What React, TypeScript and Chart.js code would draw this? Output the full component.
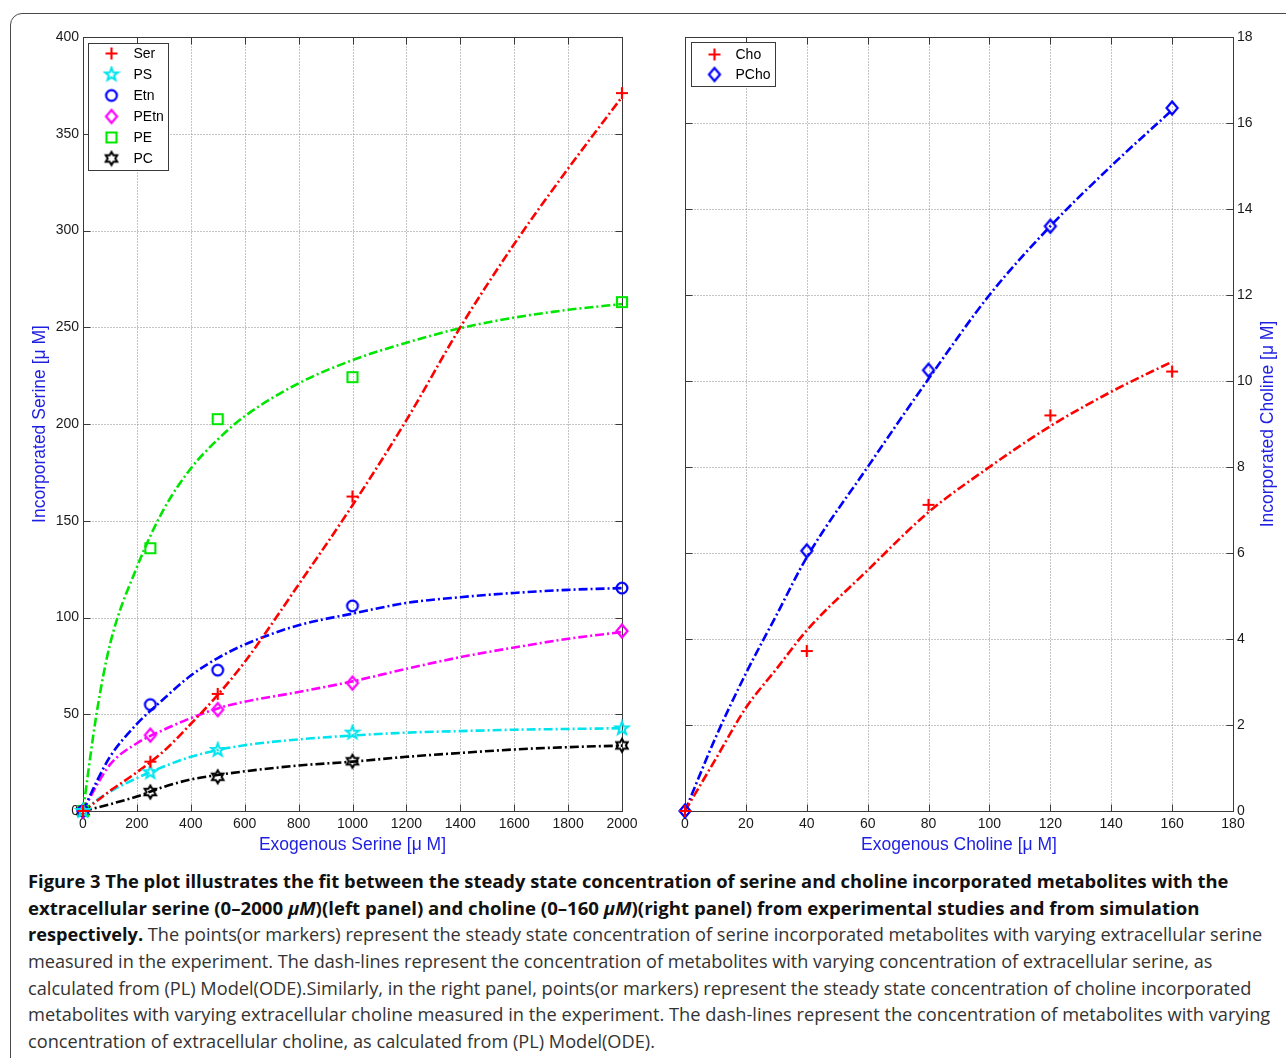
import React, { useEffect, useLayoutEffect, useRef } from 'react';
import { Chart, registerables } from 'chart.js';

Chart.register(...registerables);

// ---------- Left panel data (serine) ----------
const serineLevels = [0, 250, 500, 1000, 2000];
const serMeasured = [0, 25.5, 60.5, 162.5, 371];
const psMeasured = [0, 20, 31.5, 40.5, 42.7];
const etnMeasured = [0, 55, 72.8, 106, 115.2];
const petnMeasured = [0, 39.2, 52.4, 66.1, 93];
const peMeasured = [0, 135.8, 202.5, 224.2, 263];
const pcMeasured = [0, 9.8, 17.7, 25.7, 33.9];

const serineCurveX = [0, 50, 100, 200, 300, 400, 500, 600, 800, 1000, 1200, 1400, 1600, 1800, 2000];
const serCurve = [0, 5, 10.4, 20, 31, 45, 60, 77, 117, 158, 202, 250, 293, 332, 369];
const psCurve = [0, 5.5, 10, 17, 23, 28, 31.5, 34, 37, 39, 40.5, 41.3, 42, 42.4, 42.8];
const etnCurve = [0, 15, 28, 45, 58, 70, 79, 86, 96, 102, 107.5, 110.5, 112.7, 114.3, 115.2];
const petnCurve = [0, 13, 24, 35, 42, 48, 53, 56.5, 61.5, 67, 73.5, 79.5, 84.5, 89, 92.5];
const peCurve = [0, 50, 86, 126, 156, 177, 192, 204, 221, 233, 242, 249.5, 255, 259, 262];
const pcCurve = [0, 1.7, 3.5, 7.5, 12.5, 16.3, 18.6, 20.5, 23.5, 25.5, 28, 30, 31.8, 33, 33.8];

// ---------- Right panel data (choline) ----------
const cholineLevels = [0, 40, 80, 120, 160];
const choMeasured = [0, 3.72, 7.12, 9.2, 10.22];
const pchoMeasured = [0, 6.05, 10.25, 13.6, 16.35];

const cholineCurveX = [0, 10, 20, 30, 40, 60, 80, 100, 120, 140, 160];
const choCurve = [0, 1.2, 2.4, 3.3, 4.2, 5.6, 6.95, 8.0, 8.95, 9.75, 10.45];
const pchoCurve = [0, 1.7, 3.2, 4.55, 5.9, 8.0, 10.05, 12.0, 13.6, 15.0, 16.3];

// ---------- Labels ----------
const serineLabels = ['Ser', 'PS', 'Etn', 'PEtn', 'PE', 'PC'];
const cholineLabels = ['Cho', 'PCho'];
const serineXTitle = 'Exogenous Serine [\u03bc M]';
const serineYTitle = 'Incorporated Serine [\u03bc M]';
const cholineXTitle = 'Exogenous Choline [\u03bc M]';
const cholineYTitle = 'Incorporated Choline [\u03bc M]';

const RED = '#ff0000';
const CYAN = '#00e4ee';
const BLUE = '#0000ff';
const MAGENTA = '#ff00ff';
const GREEN = '#00e600';
const BLACK = '#000000';
const TITLE_BLUE = '#1f1fe0';

type MarkerKind = 'plus' | 'star5' | 'circle' | 'diamond' | 'square' | 'star6';

function makeMarker(kind: MarkerKind, color: string): HTMLCanvasElement {
  const s = 18;
  const c = document.createElement('canvas');
  c.width = s;
  c.height = s;
  const ctx = c.getContext('2d')!;
  const m = s / 2;
  ctx.strokeStyle = color;
  ctx.lineWidth = 2.2;
  ctx.lineJoin = 'miter';
  ctx.beginPath();
  if (kind === 'plus') {
    ctx.moveTo(m - 6, m);
    ctx.lineTo(m + 6, m);
    ctx.moveTo(m, m - 6);
    ctx.lineTo(m, m + 6);
  } else if (kind === 'circle') {
    ctx.arc(m, m, 5.4, 0, Math.PI * 2);
  } else if (kind === 'diamond') {
    ctx.moveTo(m, m - 6.5);
    ctx.lineTo(m + 5.5, m);
    ctx.lineTo(m, m + 6.5);
    ctx.lineTo(m - 5.5, m);
    ctx.closePath();
  } else if (kind === 'square') {
    ctx.rect(m - 5, m - 5, 10, 10);
  } else if (kind === 'star5') {
    for (let i = 0; i < 10; i++) {
      const r = i % 2 === 0 ? 6.8 : 2.8;
      const a = -Math.PI / 2 + (i * Math.PI) / 5;
      const x = m + r * Math.cos(a);
      const y = m + r * Math.sin(a);
      if (i === 0) ctx.moveTo(x, y);
      else ctx.lineTo(x, y);
    }
    ctx.closePath();
    ctx.lineWidth = 2;
  } else if (kind === 'star6') {
    for (let i = 0; i < 12; i++) {
      const r = i % 2 === 0 ? 6.6 : 3.8;
      const a = -Math.PI / 2 + (i * Math.PI) / 6;
      const x = m + r * Math.cos(a);
      const y = m + r * Math.sin(a);
      if (i === 0) ctx.moveTo(x, y);
      else ctx.lineTo(x, y);
    }
    ctx.closePath();
    ctx.lineWidth = 2;
  }
  ctx.stroke();
  return c;
}

interface SeriesDef {
  label: string;
  color: string;
  marker: MarkerKind;
  measured: number[];
  curve: number[];
}

function buildDatasets(xMeas: number[], xCurve: number[], series: SeriesDef[], imgs: HTMLCanvasElement[]) {
  const ds: any[] = [];
  series.forEach((s, k) => {
    ds.push({
      label: s.label + ' model',
      data: xCurve.map((x, i) => ({ x, y: s.curve[i] })),
      showLine: true,
      borderColor: s.color,
      backgroundColor: s.color,
      borderWidth: 2.6,
      borderDash: [9, 3, 2, 3],
      pointRadius: 0,
      pointHoverRadius: 0,
      cubicInterpolationMode: 'monotone',
      fill: false,
      order: 2,
    });
    ds.push({
      label: s.label,
      data: xMeas.map((x, i) => ({ x, y: s.measured[i] })),
      showLine: false,
      pointStyle: imgs[k],
      pointRadius: 6,
      pointHoverRadius: 6,
      clip: false,
      order: 1,
    });
  });
  return ds;
}

const matlabPlugin = {
  id: 'matlab',
  beforeDatasetsDraw(chart: any) {
    const { ctx } = chart;
    const { left, right, top, bottom } = chart.chartArea;
    const xs = chart.scales.x;
    const ys = chart.scales.y;
    const L = Math.round(left) + 0.5;
    const R = Math.round(right) + 0.5;
    const T = Math.round(top) + 0.5;
    const B = Math.round(bottom) + 0.5;
    ctx.save();
    ctx.strokeStyle = '#8a8a8a';
    ctx.lineWidth = 1;
    ctx.setLineDash([1, 2]);
    xs.ticks.forEach((t: any) => {
      const px = Math.round(xs.getPixelForValue(t.value)) + 0.5;
      if (px <= L + 1 || px >= R - 1) return;
      ctx.beginPath();
      ctx.moveTo(px, T);
      ctx.lineTo(px, B);
      ctx.stroke();
    });
    ys.ticks.forEach((t: any) => {
      const py = Math.round(ys.getPixelForValue(t.value)) + 0.5;
      if (py <= T + 1 || py >= B - 1) return;
      ctx.beginPath();
      ctx.moveTo(L, py);
      ctx.lineTo(R, py);
      ctx.stroke();
    });
    ctx.setLineDash([]);
    ctx.strokeStyle = '#3a3a3a';
    ctx.lineWidth = 1;
    ctx.strokeRect(L, T, R - L, B - T);
    const tl = 7;
    ctx.beginPath();
    xs.ticks.forEach((t: any) => {
      const px = Math.round(xs.getPixelForValue(t.value)) + 0.5;
      ctx.moveTo(px, B);
      ctx.lineTo(px, B - tl);
      ctx.moveTo(px, T);
      ctx.lineTo(px, T + tl);
    });
    ys.ticks.forEach((t: any) => {
      const py = Math.round(ys.getPixelForValue(t.value)) + 0.5;
      ctx.moveTo(L, py);
      ctx.lineTo(L + tl, py);
      ctx.moveTo(R, py);
      ctx.lineTo(R - tl, py);
    });
    ctx.stroke();
    ctx.restore();
  },
  afterDatasetsDraw(chart: any, _args: any, opts: any) {
    const { ctx } = chart;
    const { left, right, top, bottom } = chart.chartArea;
    ctx.save();
    // legend
    const lg = opts.legend;
    const bx = Math.round(left) + lg.dx + 0.5;
    const by = Math.round(top) + lg.dy + 0.5;
    ctx.fillStyle = '#ffffff';
    ctx.fillRect(bx, by, lg.w, lg.h);
    ctx.strokeStyle = '#3a3a3a';
    ctx.lineWidth = 1;
    ctx.strokeRect(bx, by, lg.w, lg.h);
    ctx.font = '14px "Liberation Sans", Arial, sans-serif';
    ctx.fillStyle = '#000';
    ctx.textAlign = 'left';
    ctx.textBaseline = 'middle';
    lg.items.forEach((it: any, i: number) => {
      const cy = by + lg.first + i * lg.step;
      const img = it.img as HTMLCanvasElement;
      ctx.drawImage(img, bx + lg.mx - img.width / 2, cy - img.height / 2);
      ctx.fillText(it.label, bx + lg.tx, cy + 0.5);
    });
    ctx.restore();

    // axis titles
    ctx.save();
    ctx.fillStyle = TITLE_BLUE;
    ctx.font = '17.5px "Liberation Sans", Arial, sans-serif';
    ctx.textAlign = 'center';
    ctx.textBaseline = 'middle';
    ctx.fillText(opts.xTitle, (left + right) / 2, bottom + 34);
    const ty = (top + bottom) / 2;
    const tx = opts.ySide === 'left' ? left - 43 : right + 35;
    ctx.translate(tx, ty);
    ctx.rotate(-Math.PI / 2);
    ctx.fillText(opts.yTitle, 0, 0);
    ctx.restore();
  },
};

const tickFont = { family: '"Liberation Sans", Arial, sans-serif', size: 14 };
const plainTick = (v: any) => String(v);

function SerinePanel() {
  const ref = useRef<HTMLCanvasElement>(null);
  useEffect(() => {
    const series: SeriesDef[] = [
      { label: serineLabels[0], color: RED, marker: 'plus', measured: serMeasured, curve: serCurve },
      { label: serineLabels[1], color: CYAN, marker: 'star5', measured: psMeasured, curve: psCurve },
      { label: serineLabels[2], color: BLUE, marker: 'circle', measured: etnMeasured, curve: etnCurve },
      { label: serineLabels[3], color: MAGENTA, marker: 'diamond', measured: petnMeasured, curve: petnCurve },
      { label: serineLabels[4], color: GREEN, marker: 'square', measured: peMeasured, curve: peCurve },
      { label: serineLabels[5], color: BLACK, marker: 'star6', measured: pcMeasured, curve: pcCurve },
    ];
    const imgs = series.map((s) => makeMarker(s.marker, s.color));
    const chart = new Chart(ref.current!, {
      type: 'scatter',
      data: { datasets: buildDatasets(serineLevels, serineCurveX, series, imgs) },
      plugins: [matlabPlugin],
      options: {
        animation: false,
        responsive: false,
        maintainAspectRatio: false,
        devicePixelRatio: 1,
        events: [],
        layout: { padding: { top: 37, left: 0, right: 28, bottom: 0 } },
        plugins: {
          legend: { display: false },
          tooltip: { enabled: false },
          matlab: {
            xTitle: serineXTitle,
            yTitle: serineYTitle,
            ySide: 'left',
            legend: {
              dx: 5, dy: 6, w: 80, h: 127, first: 10, step: 21, mx: 23, tx: 45,
              items: series.map((s, i) => ({ label: s.label, img: imgs[i] })),
            },
          },
        } as any,
        scales: {
          x: {
            type: 'linear',
            min: 0,
            max: 2000,
            grid: { display: false, drawTicks: false },
            border: { display: false },
            ticks: { stepSize: 200, padding: 5, font: tickFont, color: '#1a1a1a', maxRotation: 0, autoSkip: false, callback: plainTick },
            afterFit: (s: any) => { s.height = 49; },
          },
          y: {
            type: 'linear',
            position: 'left',
            min: 0,
            max: 400,
            grid: { display: false, drawTicks: false },
            border: { display: false },
            ticks: { stepSize: 50, padding: 4, font: tickFont, color: '#1a1a1a', autoSkip: false, callback: plainTick },
            afterFit: (s: any) => { s.width = 83; },
          },
        },
      } as any,
    });
    return () => chart.destroy();
  }, []);
  return (
    <canvas
      ref={ref}
      width={650}
      height={860}
      style={{ position: 'absolute', left: 0, top: 0, width: 650, height: 860, display: 'block' }}
    />
  );
}

function CholinePanel() {
  const ref = useRef<HTMLCanvasElement>(null);
  useEffect(() => {
    const series: SeriesDef[] = [
      { label: cholineLabels[0], color: RED, marker: 'plus', measured: choMeasured, curve: choCurve },
      { label: cholineLabels[1], color: BLUE, marker: 'diamond', measured: pchoMeasured, curve: pchoCurve },
    ];
    const imgs = series.map((s) => makeMarker(s.marker, s.color));
    const chart = new Chart(ref.current!, {
      type: 'scatter',
      data: { datasets: buildDatasets(cholineLevels, cholineCurveX, series, imgs) },
      plugins: [matlabPlugin],
      options: {
        animation: false,
        responsive: false,
        maintainAspectRatio: false,
        devicePixelRatio: 1,
        events: [],
        layout: { padding: { top: 37, left: 45, right: 0, bottom: 0 } },
        plugins: {
          legend: { display: false },
          tooltip: { enabled: false },
          matlab: {
            xTitle: cholineXTitle,
            yTitle: cholineYTitle,
            ySide: 'right',
            legend: {
              dx: 6, dy: 5, w: 84, h: 44, first: 12, step: 20, mx: 23, tx: 44,
              items: series.map((s, i) => ({ label: s.label, img: imgs[i] })),
            },
          },
        } as any,
        scales: {
          x: {
            type: 'linear',
            min: 0,
            max: 180,
            grid: { display: false, drawTicks: false },
            border: { display: false },
            ticks: { stepSize: 20, padding: 5, font: tickFont, color: '#1a1a1a', maxRotation: 0, autoSkip: false, callback: plainTick },
            afterFit: (s: any) => { s.height = 49; },
          },
          y: {
            type: 'linear',
            position: 'right',
            min: 0,
            max: 18,
            grid: { display: false, drawTicks: false },
            border: { display: false },
            ticks: { stepSize: 2, padding: 4, font: tickFont, color: '#1a1a1a', autoSkip: false, callback: plainTick },
            afterFit: (s: any) => { s.width = 53; },
          },
        },
      } as any,
    });
    return () => chart.destroy();
  }, []);
  return (
    <canvas
      ref={ref}
      width={646}
      height={860}
      style={{ position: 'absolute', left: 640, top: 0, width: 646, height: 860, display: 'block' }}
    />
  );
}

interface Seg { t: string; b?: boolean; i?: boolean; }

const captionLines: Seg[][] = [
  [{ t: 'Figure 3 The plot illustrates the fit between the steady state concentration of serine and choline incorporated metabolites with the', b: true }],
  [
    { t: 'extracellular serine (0\u20132000 ', b: true },
    { t: '\u03bcM', b: true, i: true },
    { t: ')(left panel) and choline (0\u2013160 ', b: true },
    { t: '\u03bcM', b: true, i: true },
    { t: ')(right panel) from experimental studies and from simulation', b: true },
  ],
  [
    { t: 'respectively.', b: true },
    { t: ' The points(or markers) represent the steady state concentration of serine incorporated metabolites with varying extracellular serine' },
  ],
  [{ t: 'measured in the experiment. The dash-lines represent the concentration of metabolites with varying concentration of extracellular serine, as' }],
  [{ t: 'calculated from (PL) Model(ODE).Similarly, in the right panel, points(or markers) represent the steady state concentration of choline incorporated' }],
  [{ t: 'metabolites with varying extracellular choline measured in the experiment. The dash-lines represent the concentration of metabolites with varying' }],
  [{ t: 'concentration of extracellular choline, as calculated from (PL) Model(ODE).' }],
];
const captionWidths = [1200, 1171, 1234, 1184, 1223, 1242, 627];

function Caption() {
  const refs = useRef<(HTMLSpanElement | null)[]>([]);
  useLayoutEffect(() => {
    refs.current.forEach((sp, i) => {
      if (!sp) return;
      sp.style.transform = 'none';
      const w = sp.offsetWidth;
      if (w > 0) sp.style.transform = `scaleX(${captionWidths[i] / w})`;
    });
  }, []);
  return (
    <div
      style={{
        position: 'absolute',
        left: 28,
        top: 868,
        fontFamily: '"Open Sans", "Noto Sans", sans-serif',
        fontSize: 18,
        lineHeight: '26.7px',
        color: '#333333',
        whiteSpace: 'nowrap',
      }}
    >
      {captionLines.map((line, li) => (
        <div key={li} style={{ height: 26.7 }}>
          <span
            ref={(el) => { refs.current[li] = el; }}
            style={{ display: 'inline-block', transformOrigin: '0 0' }}
          >
            {line.map((s, si) => (
              <span
                key={si}
                style={{
                  fontWeight: s.b ? 700 : 400,
                  fontStyle: s.i ? 'italic' : 'normal',
                  color: s.b ? '#111111' : '#333333',
                }}
              >
                {s.t}
              </span>
            ))}
          </span>
        </div>
      ))}
    </div>
  );
}

export default function App() {
  return (
    <div
      style={{
        position: 'absolute',
        left: 0,
        top: 0,
        width: 1286,
        height: 1058,
        overflow: 'hidden',
        background: '#ffffff',
      }}
    >
      <div
        style={{
          position: 'absolute',
          left: 10,
          top: 13,
          width: 1320,
          height: 1100,
          border: '1px solid #4a4a4a',
          borderRadius: 12,
          boxSizing: 'border-box',
        }}
      />
      <SerinePanel />
      <CholinePanel />
      <Caption />
    </div>
  );
}
